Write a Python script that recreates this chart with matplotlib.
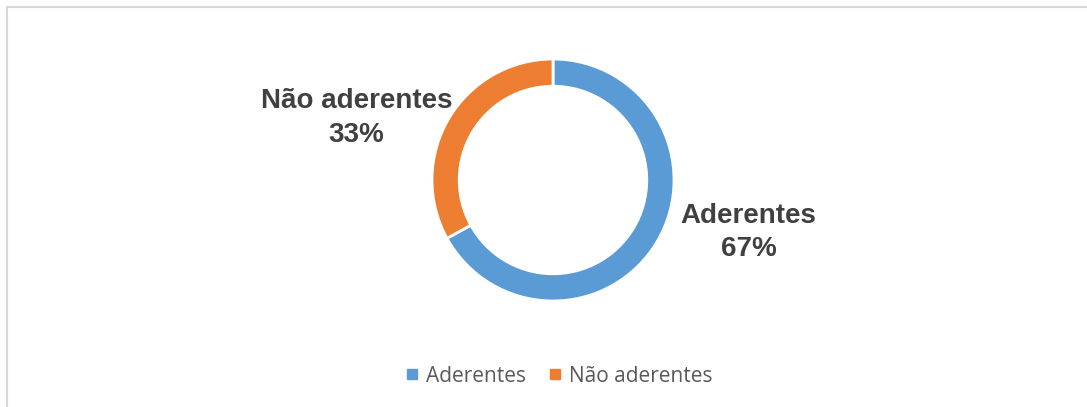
import matplotlib.pyplot as plt
from matplotlib.patches import Rectangle

categorias = ['Aderentes', 'Não aderentes']
valores = [67, 33]
cores = ['#5B9BD5', '#ED7D31']

fig = plt.figure(figsize=(10.87, 4.07), dpi=100)

# moldura cinza do gráfico
fig.patches.append(Rectangle((7 / 1087, -0.1), 1.2, (407 - 7) / 407 + 0.1,
                             transform=fig.transFigure, fill=False,
                             edgecolor='#D9D9D9', linewidth=1.5))

ax = fig.add_axes([0, 0, 1, 1])
raio_px = 121
cx, cy = 553, 407 - 180

ax.pie(valores, colors=cores, startangle=90, counterclock=False, radius=1,
       wedgeprops=dict(width=0.225, edgecolor='white', linewidth=2))
ax.set_xlim(-cx / raio_px, (1087 - cx) / raio_px)
ax.set_ylim(-cy / raio_px, (407 - cy) / raio_px)
ax.axis('off')

posicoes = [(1.615, -0.435), (-1.625, 0.51)]
for nome, v, (x, y) in zip(categorias, valores, posicoes):
    ax.text(x, y, f'{nome}\n{v}%', ha='center', va='center', fontsize=20,
            fontweight='bold', color='#404040', family='Liberation Sans',
            linespacing=1.38)

handles = [plt.Line2D([], [], marker='s', linestyle='', markersize=6.5,
                      color=c) for c in cores]
fig.legend(handles, categorias, loc='center', bbox_to_anchor=(558 / 1087, 1 - 376 / 407),
           ncol=2, frameon=False, labelcolor='#595959',
           handletextpad=0.25, columnspacing=1.0, handlelength=0.8,
           prop={'family': 'Open Sans', 'size': 15})

fig.savefig('out.png', dpi=100)
